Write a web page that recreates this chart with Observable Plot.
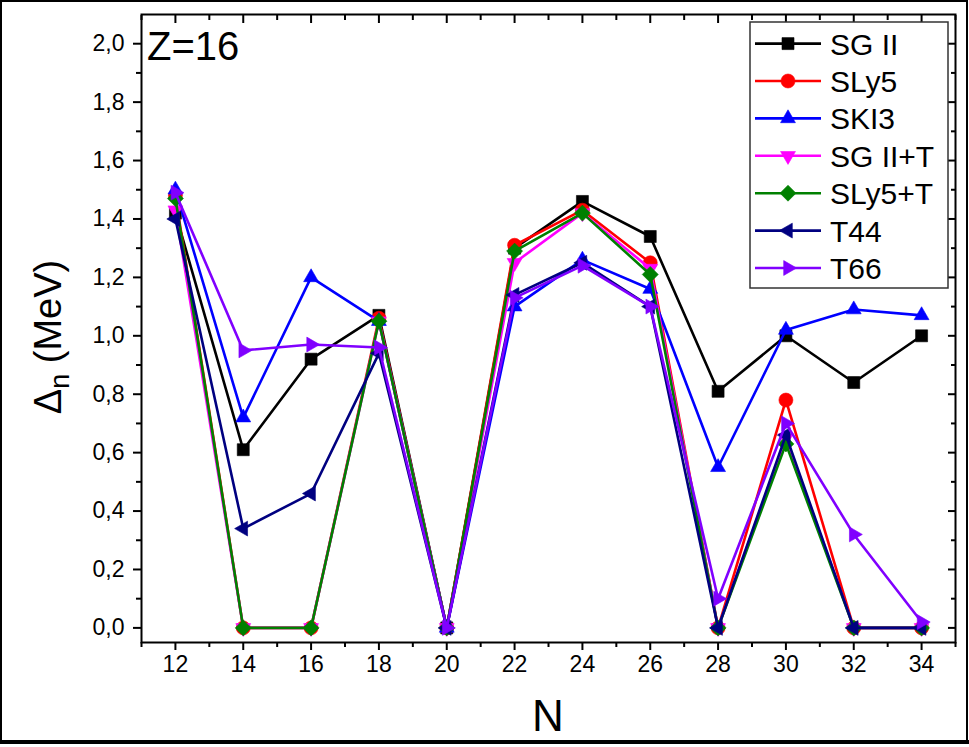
<!DOCTYPE html>
<html><head><meta charset="utf-8">
<script src="https://cdn.jsdelivr.net/npm/d3@7"></script>
<script src="https://cdn.jsdelivr.net/npm/@observablehq/plot@0.6"></script>
<style>body{margin:0;background:#fff;} svg{display:block}</style>
</head><body><div id="chart"></div>
<script>
// Neutron number
const N = [12, 14, 16, 18, 20, 22, 24, 26, 28, 30, 32, 34];
// Delta_n (MeV) per interaction
const sgII  = [1.42, 0.61, 0.92, 1.07, 0.00, 1.30, 1.46, 1.34, 0.81, 1.00, 0.84, 1.00];
const sly5  = [1.48, 0.00, 0.00, 1.06, 0.00, 1.31, 1.43, 1.25, 0.00, 0.78, 0.00, 0.00];
const ski3  = [1.50, 0.72, 1.20, 1.05, 0.00, 1.10, 1.26, 1.16, 0.55, 1.02, 1.09, 1.07];
const sgIIT = [1.43, 0.00, 0.00, 1.05, 0.00, 1.25, 1.42, 1.23, 0.00, 0.65, 0.00, 0.00];
const sly5T = [1.47, 0.00, 0.00, 1.05, 0.00, 1.29, 1.42, 1.21, 0.00, 0.63, 0.00, 0.00];
const t44   = [1.40, 0.34, 0.46, 0.94, 0.00, 1.14, 1.25, 1.10, 0.00, 0.66, 0.00, 0.00];
const t66   = [1.49, 0.95, 0.97, 0.96, 0.00, 1.13, 1.24, 1.10, 0.10, 0.70, 0.32, 0.02];

const names  = ["SG II", "SLy5", "SKI3", "SG II+T", "SLy5+T", "T44", "T66"];
const values = [sgII, sly5, ski3, sgIIT, sly5T, t44, t66];
const colors = ["#000000", "#ff0000", "#0000ff", "#ff00ff", "#008000", "#000080", "#8000ff"];

// tick values
const xMajor = [12, 14, 16, 18, 20, 22, 24, 26, 28, 30, 32, 34];
const xMinor = [11, 13, 15, 17, 19, 21, 23, 25, 27, 29, 31, 33, 35];
const yMajor = [0, 0.2, 0.4, 0.6, 0.8, 1.0, 1.2, 1.4, 1.6, 1.8, 2.0];
const yMinor = [0.1, 0.3, 0.5, 0.7, 0.9, 1.1, 1.3, 1.5, 1.7, 1.9];

// custom marker shapes
function poly(pts) {
  return {draw(ctx, size) {
    const r = Math.sqrt(size / Math.PI);
    pts.forEach(([a, b], i) => i ? ctx.lineTo(a * r, b * r) : ctx.moveTo(a * r, b * r));
    ctx.closePath();
  }};
}
const tri = (ang) => poly([0, 1, 2].map(i => {
  const a = ang + i * 2 * Math.PI / 3; return [Math.cos(a), Math.sin(a)];
}));
const symSquare = poly([[-1, -1], [1, -1], [1, 1], [-1, 1]]);
const symCircle = {draw(ctx, size) { const r = Math.sqrt(size / Math.PI); ctx.moveTo(r, 0); ctx.arc(0, 0, r, 0, 2 * Math.PI); }};
const symDiamond = poly([[0, -1], [1, 0], [0, 1], [-1, 0]]);
const symbols = [symSquare, symCircle, tri(-Math.PI / 2), tri(Math.PI / 2), symDiamond, tri(Math.PI), tri(0)];
const sizes = [6, 7, 8.6, 8.6, 8, 8.6, 8.6];

const table = names.map((name, s) => N.map((n, i) => ({N: n, v: values[s][i], series: name})));

const marks = [];
table.forEach((rows, s) => {
  marks.push(Plot.line(rows, {x: "N", y: "v", stroke: colors[s], strokeWidth: 2.6}));
  marks.push(Plot.dot(rows, {x: "N", y: "v", symbol: symbols[s], r: sizes[s], fill: colors[s], stroke: colors[s], strokeWidth: 0.6}));
});

const fmt = d => d.toFixed(1).replace(".", ",");

const chart = Plot.plot({
  width: 969, height: 747,
  marginLeft: 141, marginRight: 14, marginTop: 14, marginBottom: 105,
  x: {domain: [11, 35]},
  y: {domain: [-0.05, 2.1]},
  style: {fontFamily: "'Liberation Sans', Arial, sans-serif", background: "#fff", color: "#000"},
  marks: [
    Plot.axisX(xMajor, {tickSize: 8, tickPadding: 5, strokeWidth: 2, fontSize: 23, tickFormat: d => String(d), label: null}),
    Plot.axisX(xMinor, {tickSize: 5, strokeWidth: 2, tickFormat: () => "", label: null}),
    Plot.axisX(xMajor, {anchor: "top", tickSize: 8, insetTop: 8, strokeWidth: 2, tickFormat: () => "", label: null}),
    Plot.axisX(xMinor, {anchor: "top", tickSize: 5, insetTop: 5, strokeWidth: 2, tickFormat: () => "", label: null}),
    Plot.axisY(yMajor, {tickSize: 8, tickPadding: 9, strokeWidth: 2, fontSize: 23, tickFormat: fmt, label: null}),
    Plot.axisY(yMinor, {tickSize: 5, strokeWidth: 2, tickFormat: () => "", label: null}),
    Plot.axisY(yMajor, {anchor: "right", tickSize: 8, insetRight: 8, strokeWidth: 2, tickFormat: () => "", label: null}),
    Plot.axisY(yMinor, {anchor: "right", tickSize: 5, insetRight: 5, strokeWidth: 2, tickFormat: () => "", label: null}),
    ...marks,
    Plot.frame({stroke: "#000", strokeWidth: 2})
  ]
});

document.getElementById("chart").appendChild(chart);

const svg = d3.select(chart);
const font = "'Liberation Sans', Arial, sans-serif";

// outer border
svg.append("rect").attr("x", 1).attr("y", 1).attr("width", 966).attr("height", 741)
  .attr("fill", "none").attr("stroke", "#000").attr("stroke-width", 2);
svg.append("line").attr("x1", 0).attr("x2", 969).attr("y1", 742).attr("y2", 742)
  .attr("stroke", "#000").attr("stroke-width", 4);

// axis titles
svg.append("text").attr("x", 548).attr("y", 731).attr("text-anchor", "middle")
  .attr("font-family", font).attr("font-size", 44).text("N");
const yl = svg.append("text").attr("transform", "translate(61,337) rotate(-90)")
  .attr("text-anchor", "middle").attr("font-family", font).attr("font-size", 38);
yl.append("tspan").text("\u0394");
yl.append("tspan").attr("font-size", 27).attr("dy", 8).text("n");
yl.append("tspan").attr("dy", -8).text(" (MeV)");

// panel label
svg.append("text").attr("x", 147).attr("y", 60).attr("text-anchor", "start")
  .attr("font-family", font).attr("font-size", 40).text("Z=16");

// legend
const lg = svg.append("g");
lg.append("rect").attr("x", 750).attr("y", 22).attr("width", 198).attr("height", 266)
  .attr("fill", "#fff").attr("stroke", "#333").attr("stroke-width", 1.5);
names.forEach((name, i) => {
  const cy = 43.6 + i * 37.4;
  lg.append("line").attr("x1", 755).attr("x2", 821).attr("y1", cy).attr("y2", cy)
    .attr("stroke", colors[i]).attr("stroke-width", 2.6);
  const p = d3.path();
  symbols[i].draw(p, sizes[i] * sizes[i] * Math.PI);
  lg.append("path").attr("d", p.toString()).attr("transform", `translate(788,${cy})`)
    .attr("fill", colors[i]).attr("stroke", colors[i]).attr("stroke-width", 0.6);
  lg.append("text").attr("x", 830).attr("y", cy + 11).attr("text-anchor", "start")
    .attr("font-family", font).attr("font-size", 30).text(name);
});
</script>
</body></html>
